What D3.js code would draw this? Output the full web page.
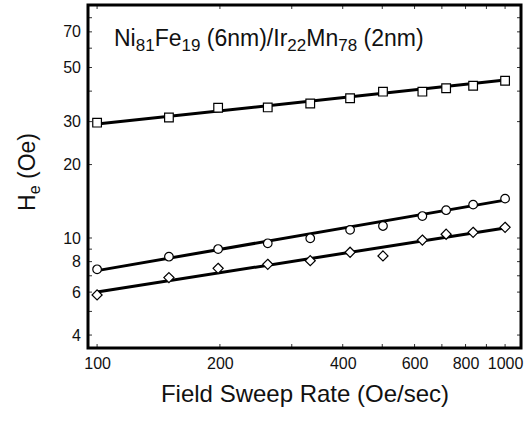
<!DOCTYPE html>
<html><head><meta charset="utf-8">
<script src="https://cdn.jsdelivr.net/npm/d3@7"></script>
<style>body{margin:0;background:#fff}svg{display:block}text{font-family:"Liberation Sans",Arial,sans-serif;fill:#111}</style>
</head><body><svg id="c" width="530" height="421"></svg>
<script>
const sweepRates = [100, 150, 198, 262, 333, 417, 502, 627, 717, 835, 1000];
const squareHe  = [29.7, 31.2, 34.2, 34.3, 35.6, 37.4, 39.8, 39.8, 41.1, 42.1, 44.1];
const circleHe  = [7.44, 8.38, 9.01, 9.51, 9.97, 10.8, 11.2, 12.3, 13.0, 13.7, 14.5];
const diamondHe = [5.84, 6.88, 7.51, 7.80, 8.07, 8.74, 8.44, 9.81, 10.36, 10.55, 11.06];
const fitRates  = [100, 1000];
const squareFit = [29.3, 44.4];
const circleFit = [7.35, 14.3];
const diamondFit = [6.0, 11.0];
const xTickLabels = [100, 200, 400, 600, 800, 1000];
const yTickLabels = [4, 6, 8, 10, 20, 30, 50, 70];

const svg = d3.select("#c");
const L = 88, R = 521, T = 5, B = 348;
const x = d3.scaleLog().domain([95, 1094]).range([L, R]);
const y = d3.scaleLog().domain([3.54, 90.2]).range([B, T]);

// minor ticks
const xMinor = d3.range(100, 1001, 100);
const yMinor = d3.range(4, 10).concat(d3.range(10, 91, 10));
const g = svg.append("g");
xMinor.forEach(v => {
  g.append("line").attr("x1", x(v)).attr("x2", x(v)).attr("y1", B).attr("y2", B - 4).attr("stroke", "#333").attr("stroke-width", 1);
  g.append("line").attr("x1", x(v)).attr("x2", x(v)).attr("y1", T).attr("y2", T + 4).attr("stroke", "#333").attr("stroke-width", 1);
});
yMinor.forEach(v => {
  g.append("line").attr("x1", L).attr("x2", L + 4).attr("y1", y(v)).attr("y2", y(v)).attr("stroke", "#333").attr("stroke-width", 1);
  g.append("line").attr("x1", R).attr("x2", R - 4).attr("y1", y(v)).attr("y2", y(v)).attr("stroke", "#333").attr("stroke-width", 1);
});

// frame
svg.append("rect").attr("x", L).attr("y", T).attr("width", R - L).attr("height", B - T)
  .attr("fill", "none").attr("stroke", "#000").attr("stroke-width", 3);

// tick labels via axes
const yAxis = d3.axisLeft(y).tickValues(yTickLabels).tickFormat(d3.format("d")).tickSize(0).tickPadding(7);
svg.append("g").attr("transform", `translate(${L},0)`).call(yAxis)
  .call(a => a.select(".domain").remove())
  .selectAll("text").attr("font-size", 16).style("font-family", "Liberation Sans, Arial, sans-serif");
const xAxis = d3.axisBottom(x).tickValues(xTickLabels).tickFormat(d3.format("d")).tickSize(0).tickPadding(10);
svg.append("g").attr("transform", `translate(0,${B})`).call(xAxis)
  .call(a => a.select(".domain").remove())
  .selectAll("text").attr("font-size", 16).style("font-family", "Liberation Sans, Arial, sans-serif");

// fit lines
const line = d3.line().x(d => x(d[0])).y(d => y(d[1]));
[squareFit, circleFit, diamondFit].forEach(f => {
  svg.append("path").datum(fitRates.map((r, i) => [r, f[i]])).attr("d", line)
    .attr("fill", "none").attr("stroke", "#000").attr("stroke-width", 3);
});

// markers
const sq = d3.symbol().type(d3.symbolSquare).size(75);
const ci = d3.symbol().type(d3.symbolCircle).size(58);
const di = d3.symbol().type(d3.symbolDiamond2).size(65);
const series = [[squareHe, sq], [circleHe, ci], [diamondHe, di]];
series.forEach(([vals, sym]) => {
  svg.append("g").selectAll("path").data(vals).join("path")
    .attr("d", sym)
    .attr("transform", (d, i) => `translate(${x(sweepRates[i])},${y(d)})`)
    .attr("fill", "#fff").attr("stroke", "#000").attr("stroke-width", 1.2);
});

// title
const t = svg.append("text").attr("x", 114).attr("y", 46).attr("font-size", 23);
t.append("tspan").text("Ni");
t.append("tspan").attr("font-size", 17).attr("dy", 5).text("81");
t.append("tspan").attr("dy", -5).text("Fe");
t.append("tspan").attr("font-size", 17).attr("dy", 5).text("19");
t.append("tspan").attr("dy", -5).text(" (6nm)/Ir");
t.append("tspan").attr("font-size", 17).attr("dy", 5).text("22");
t.append("tspan").attr("dy", -5).text("Mn");
t.append("tspan").attr("font-size", 17).attr("dy", 5).text("78");
t.append("tspan").attr("dy", -5).text(" (2nm)");

// axis titles
svg.append("text").attr("x", 305).attr("y", 402).attr("text-anchor", "middle")
  .attr("font-size", 24).text("Field Sweep Rate (Oe/sec)");
const yt = svg.append("text").attr("transform", "translate(35,172) rotate(-90)").attr("text-anchor", "middle").attr("font-size", 23);
yt.append("tspan").text("H");
yt.append("tspan").attr("font-size", 16).attr("dy", 5).text("e");
yt.append("tspan").attr("dy", -5).text(" (Oe)");
</script></body></html>
